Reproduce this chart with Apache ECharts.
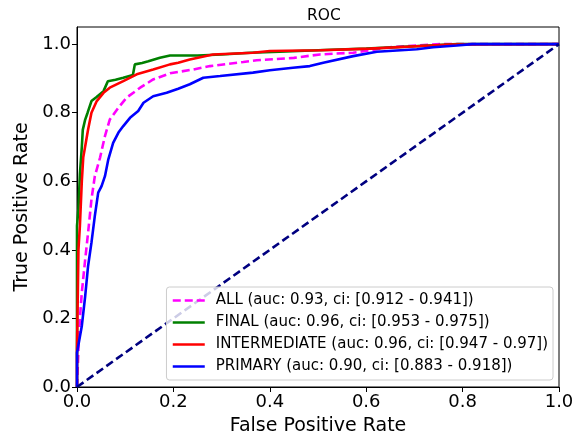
<!DOCTYPE html>
<html>
<head>
<meta charset="utf-8">
<script src="https://cdn.jsdelivr.net/npm/echarts@6/dist/echarts.min.js"></script>
<style>
  html, body { margin: 0; padding: 0; background: #fff; }
  #chart { width: 578px; height: 441px; }
</style>
</head>
<body>
<div id="chart"></div>
<script>
// ROC curve points
const allFpr = [0, 0.003, 0.006, 0.01, 0.017, 0.023, 0.03, 0.037, 0.048, 0.058, 0.068, 0.086, 0.103, 0.131, 0.158, 0.193, 0.241, 0.276, 0.345, 0.373, 0.45, 0.504, 0.573, 0.649, 0.753, 1.0];
const allTpr = [0, 0.11, 0.2, 0.276, 0.372, 0.45, 0.547, 0.615, 0.67, 0.732, 0.78, 0.815, 0.844, 0.873, 0.897, 0.915, 0.926, 0.936, 0.948, 0.953, 0.96, 0.97, 0.975, 0.991, 1.0, 1.0];

const finalFpr = [0, 0, 0.003, 0.006, 0.01, 0.012, 0.017, 0.022, 0.03, 0.04, 0.055, 0.064, 0.08, 0.096, 0.116, 0.12, 0.135, 0.148, 0.16, 0.172, 0.193, 0.25, 0.30, 0.36, 0.42, 0.5, 0.6, 0.7, 0.75, 0.79, 1.0];
const finalTpr = [0, 0.47, 0.52, 0.62, 0.70, 0.75, 0.78, 0.80, 0.834, 0.845, 0.863, 0.892, 0.896, 0.902, 0.91, 0.941, 0.945, 0.950, 0.955, 0.960, 0.967, 0.967, 0.97, 0.975, 0.978, 0.982, 0.987, 0.994, 0.997, 1.0, 1.0];

const interFpr = [0, 0, 0.003, 0.006, 0.01, 0.013, 0.018, 0.023, 0.03, 0.041, 0.055, 0.068, 0.096, 0.124, 0.158, 0.193, 0.21, 0.234, 0.282, 0.365, 0.40, 0.504, 0.608, 0.705, 0.774, 1.0];
const interTpr = [0, 0.11, 0.40, 0.47, 0.60, 0.67, 0.71, 0.751, 0.80, 0.834, 0.858, 0.873, 0.892, 0.912, 0.926, 0.941, 0.946, 0.955, 0.97, 0.975, 0.98, 0.982, 0.987, 0.994, 0.999, 1.0];

const primFpr = [0, 0, 0.01, 0.017, 0.023, 0.03, 0.037, 0.044, 0.051, 0.058, 0.065, 0.075, 0.086, 0.096, 0.11, 0.127, 0.138, 0.158, 0.186, 0.21, 0.234, 0.262, 0.297, 0.365, 0.40, 0.448, 0.483, 0.511, 0.573, 0.622, 0.705, 0.739, 0.788, 0.82, 1.0];
const primTpr = [0, 0.1, 0.178, 0.265, 0.353, 0.421, 0.499, 0.567, 0.586, 0.615, 0.664, 0.712, 0.742, 0.761, 0.785, 0.805, 0.829, 0.848, 0.858, 0.870, 0.883, 0.902, 0.907, 0.917, 0.924, 0.931, 0.936, 0.946, 0.965, 0.978, 0.985, 0.991, 0.996, 1.0, 1.0];

const chanceX = [0, 1];
const chanceY = [0, 1];

const seriesNames = [
  'ALL (auc: 0.93, ci: [0.912 - 0.941])',
  'FINAL (auc: 0.96, ci: [0.953 - 0.975])',
  'INTERMEDIATE (auc: 0.96, ci: [0.947 - 0.97])',
  'PRIMARY (auc: 0.90, ci: [0.883 - 0.918])'
];
const xTicks = [0, 0.2, 0.4, 0.6, 0.8, 1.0];

const zip = (xs, ys) => xs.map((x, i) => [x, ys[i]]);
const font = 'DejaVu Sans';

const rocLine = (name, xs, ys, color, type, z) => ({
  name: name,
  type: 'line',
  data: zip(xs, ys),
  symbol: 'none',
  silent: true,
  z: z,
  itemStyle: { color: color },
  lineStyle: { color: color, width: 2.6, type: type }
});

const chart = echarts.init(document.getElementById('chart'));

chart.setOption({
  animation: false,
  backgroundColor: '#fff',
  title: {
    text: 'ROC',
    left: 319,
    top: 3,
    textAlign: 'center',
    textStyle: { fontFamily: font, fontSize: 15.5, fontWeight: 'normal', color: '#000' }
  },
  grid: {
    left: 77, right: 19, top: 27, bottom: 53,
    show: true, borderColor: '#000', borderWidth: 1
  },
  legend: {
    orient: 'vertical',
    right: 25,
    bottom: 61,
    padding: [6, 5, 6, 5],
    itemWidth: 32,
    itemHeight: 14,
    itemGap: 7,
    backgroundColor: 'rgba(255,255,255,0.8)',
    borderColor: '#ccc',
    borderWidth: 1,
    borderRadius: 3,
    itemStyle: { opacity: 0 },
    lineStyle: { width: 2.6 },
    textStyle: { fontFamily: font, fontSize: 15, color: '#000', padding: [0, 0, 0, 6] },
    data: seriesNames
  },
  xAxis: {
    type: 'value',
    min: 0, max: 1, interval: 0.2,
    name: 'False Positive Rate',
    nameLocation: 'middle',
    nameGap: 30,
    nameTextStyle: { fontFamily: font, fontSize: 19, color: '#000' },
    axisLine: { show: true, lineStyle: { color: '#000' } },
    axisTick: { show: true, length: 5, lineStyle: { color: '#000' } },
    axisLabel: {
      fontFamily: font, fontSize: 18, color: '#000', margin: 6,
      formatter: v => xTicks.some(t => Math.abs(t - v) < 1e-9) ? v.toFixed(1) : ''
    },
    splitLine: { show: false }
  },
  yAxis: {
    type: 'value',
    min: 0, max: 1.05, interval: 0.2,
    name: 'True Positive Rate',
    nameLocation: 'middle',
    nameGap: 44,
    nameTextStyle: { fontFamily: font, fontSize: 19, color: '#000' },
    axisLine: { show: true, lineStyle: { color: '#000' } },
    axisTick: { show: true, length: 5, lineStyle: { color: '#000' } },
    axisLabel: {
      fontFamily: font, fontSize: 18, color: '#000', margin: 6,
      showMaxLabel: false,
      formatter: v => v <= 1.0001 ? v.toFixed(1) : ''
    },
    splitLine: { show: false }
  },
  series: [
    rocLine(seriesNames[0], allFpr, allTpr, '#ff00ff', [8, 4], 2),
    rocLine(seriesNames[1], finalFpr, finalTpr, '#008000', 'solid', 3),
    rocLine(seriesNames[2], interFpr, interTpr, '#ff0000', 'solid', 3),
    rocLine(seriesNames[3], primFpr, primTpr, '#0000ff', 'solid', 3),
    {
      type: 'line',
      data: zip(chanceX, chanceY),
      symbol: 'none',
      silent: true,
      z: 3,
      lineStyle: { color: '#000080', width: 2.6, type: [8, 4] }
    }
  ]
});
</script>
</body>
</html>
